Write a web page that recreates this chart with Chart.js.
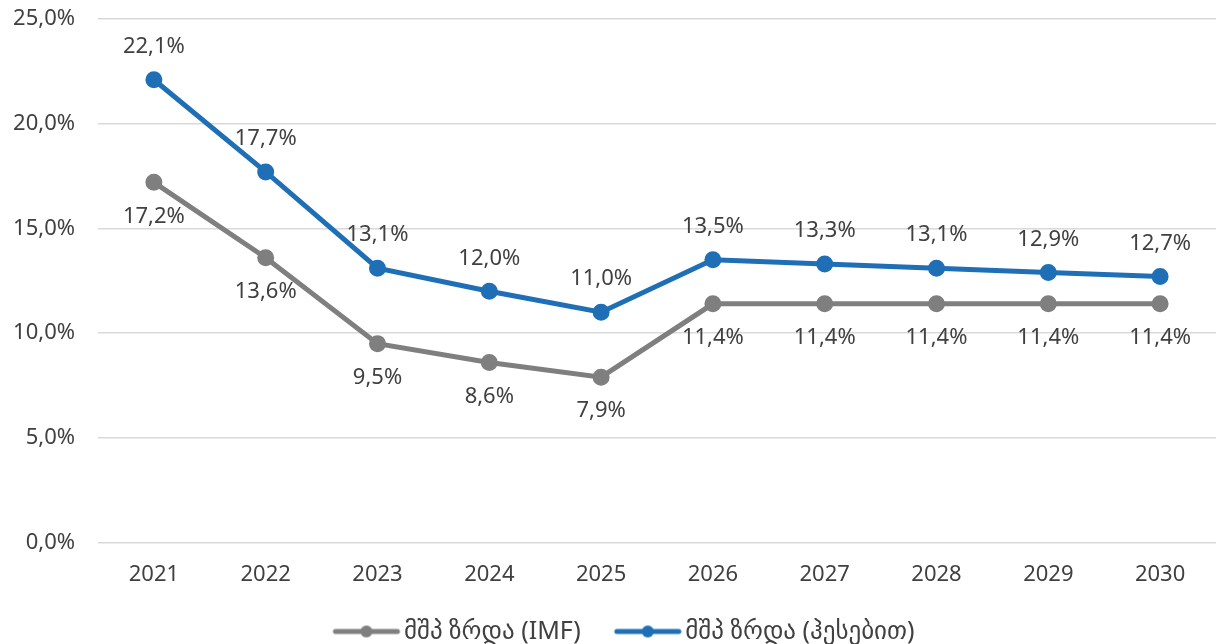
<!DOCTYPE html>
<html lang="ka">
<head>
  <meta charset="UTF-8">
  <title>მშპ ზრდა</title>
  <script src="https://cdn.jsdelivr.net/npm/chart.js"></script>
  <style>
    body { margin: 0; background: #fff; }
    canvas { display: block; }
  </style>
</head>
<body>
  <canvas id="growthChart" width="1216" height="644"></canvas>

  <script>
    const years = ['2021', '2022', '2023', '2024', '2025', '2026', '2027', '2028', '2029', '2030'];
    const imfGrowth = [17.2, 13.6, 9.5, 8.6, 7.9, 11.4, 11.4, 11.4, 11.4, 11.4];
    const calcGrowth = [22.1, 17.7, 13.1, 12.0, 11.0, 13.5, 13.3, 13.1, 12.9, 12.7];
    const seriesNames = ['მშპ ზრდა (IMF)', 'მშპ ზრდა (ჰესებით)'];

    const FONT = "'Noto Sans', 'DejaVu Sans', sans-serif";
    const TEXT = '#404040';
    const GRAY = '#7f7f7f';
    const BLUE = '#1f6fb6';

    const fmt = v => v.toFixed(1).replace('.', ',') + '%';

    // legend marker: short line with a dot, pushed to the right part of the box
    // so it sits right before the text and leaves a gap after the previous item
    function lineMarker(color) {
      const c = document.createElement('canvas');
      c.width = 110; c.height = 14;
      const g = c.getContext('2d');
      g.strokeStyle = color; g.lineWidth = 5; g.lineCap = 'round';
      g.beginPath(); g.moveTo(44, 7); g.lineTo(106, 7); g.stroke();
      g.fillStyle = color;
      g.beginPath(); g.arc(75, 7, 6, 0, Math.PI * 2); g.fill();
      return c;
    }

    // value labels: above for the blue line, below for the gray one
    const valueLabels = {
      id: 'valueLabels',
      afterDatasetsDraw(chart) {
        const ctx = chart.ctx;
        ctx.save();
        ctx.font = '22px ' + FONT;
        ctx.fillStyle = TEXT;
        ctx.textAlign = 'center';
        ctx.textBaseline = 'middle';
        chart.data.datasets.forEach((ds, i) => {
          const meta = chart.getDatasetMeta(i);
          meta.data.forEach((pt, j) => {
            const dy = ds.labelPos === 'above' ? -33 : 34;
            ctx.fillText(fmt(ds.data[j]), pt.x, pt.y + dy);
          });
        });
        ctx.restore();
      }
    };

    // nudge the legend a bit closer to the bottom edge
    const legendNudge = {
      id: 'legendNudge',
      afterLayout(chart) {
        if (chart.legend) {
          chart.legend.top += 10;
          chart.legend.bottom += 10;
        }
      }
    };

    const ctx = document.getElementById('growthChart').getContext('2d');
    new Chart(ctx, {
      type: 'line',
      data: {
        labels: years,
        datasets: [
          {
            label: seriesNames[0], data: imfGrowth, labelPos: 'below',
            borderColor: GRAY, backgroundColor: GRAY, borderWidth: 5,
            pointRadius: 6, pointHoverRadius: 6, fill: false, tension: 0
          },
          {
            label: seriesNames[1], data: calcGrowth, labelPos: 'above',
            borderColor: BLUE, backgroundColor: BLUE, borderWidth: 5,
            pointRadius: 6, pointHoverRadius: 6, fill: false, tension: 0
          }
        ]
      },
      options: {
        responsive: false,
        animation: false,
        layout: { autoPadding: false, padding: 0 },
        scales: {
          x: {
            offset: true,
            grid: { display: false, drawTicks: false, tickLength: 0 },
            border: { display: false },
            ticks: { color: TEXT, font: { family: FONT, size: 22 }, padding: 19, maxRotation: 0 }
          },
          y: {
            min: 0, max: 25,
            grid: { color: '#d9d9d9', lineWidth: 1.5, drawTicks: false },
            border: { display: false },
            ticks: {
              stepSize: 5, color: TEXT, padding: 23,
              font: { family: FONT, size: 22 },
              callback: v => fmt(v)
            },
            // fixed axis width; tick padding should not push the top down
            afterFit(scale) {
              scale.width = 98;
              scale.paddingTop = 19;
              scale.paddingBottom = 13;
            }
          }
        },
        plugins: {
          tooltip: { enabled: false },
          legend: {
            position: 'bottom',
            labels: {
              usePointStyle: true,
              pointStyleWidth: 90,
              padding: 2,
              color: TEXT,
              font: { family: FONT, size: 25 },
              generateLabels(chart) {
                const items = Chart.defaults.plugins.legend.labels.generateLabels(chart);
                items.forEach((it, i) => {
                  it.pointStyle = lineMarker(chart.data.datasets[i].borderColor);
                });
                return items;
              }
            }
          }
        }
      },
      plugins: [valueLabels, legendNudge]
    });
  </script>
</body>
</html>
